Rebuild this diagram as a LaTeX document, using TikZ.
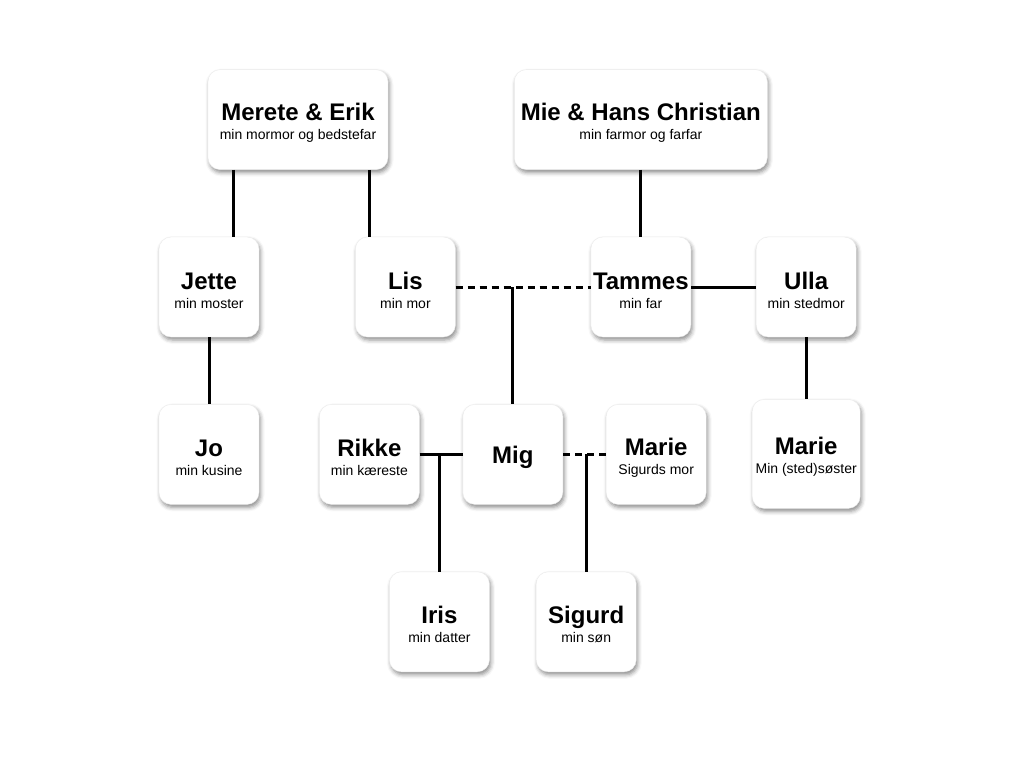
\documentclass[tikz,border=0pt]{standalone}
\usepackage{fontspec}
\setmainfont{Liberation Sans}[BoldFont={Liberation Sans Bold}]
\usetikzlibrary{positioning,shadows.blur}
\newcommand{\name}[1]{{\fontsize{24}{24}\selectfont\bfseries\rule{0pt}{23.5pt}#1}}
\newcommand{\who}[2]{\name{#1}\\#2}

\begin{document}
\begin{tikzpicture}[x=1pt,y=-1pt]
		\tikzstyle{card}=[rectangle, rounded corners=12pt, fill=white, draw=black!8, minimum width=100pt, minimum height=100pt, inner sep=0pt, align=center, font=\fontsize{14}{19}\selectfont, node distance=67pt, blur shadow={shadow xshift=1.5pt, shadow yshift=-3pt, shadow blur radius=4pt, shadow opacity=45}]
		\tikzstyle{tie}=[line width=3pt]
		\tikzstyle{loose}=[line width=3pt, dash pattern=on 7pt off 5pt]
		\useasboundingbox (0,0) rectangle (1024,768);

		\node[card] (jette) at (209,287) {\who{Jette}{min moster}};
		\node[card] (jo) [below=of jette] {\who{Jo}{min kusine}};
		\node[card, minimum width=180pt] (merete) [above=of jette, xshift=89pt] {\who{Merete \& Erik}{min mormor og bedstefar}};

		\node[card] (lis) [right=96pt of jette] {\who{Lis}{min mor}};
		\node[card] (tammes) [right=135pt of lis] {\who{Tammes}{min far}};
		\node[card] (ulla) [right=65pt of tammes] {\who{Ulla}{min stedmor}};
		\node[card, minimum width=253pt] (mie) [above=of tammes] {\who{Mie \& Hans Christian}{min farmor og farfar}};
		\node[card, minimum width=108pt, minimum height=109pt] (sister) [below=62pt of ulla] {\who{Marie}{Min (sted)søster}};

		\node[card] (rikke) [right=60pt of jo] {\who{Rikke}{min kæreste}};
		\node[card] (mig) [right=43pt of rikke] {\name{Mig}};
		\node[card] (marie) [right=43pt of mig] {\who{Marie}{Sigurds mor}};

		\node[card] (iris) [below=of rikke, xshift=70pt] {\who{Iris}{min datter}};
		\node[card] (sigurd) [below=of marie, xshift=-70pt] {\who{Sigurd}{min søn}};

		% grandparents
		\coordinate (mL) at ([xshift=-65pt]merete.south);
		\coordinate (mR) at ([xshift=71pt]merete.south);
		\draw[tie] (mL) -- (mL |- jette.north);
		\draw[tie] (mR) -- (mR |- lis.north);
		\path (mie) edge [tie] (tammes);
		\path (jette) edge [tie] (jo);

		% parents
		\path (lis.east) edge [loose] (tammes.west);
		\path (tammes.east) edge [tie] (ulla.west);
		\path (ulla) edge [tie] (sister);
		\coordinate (lt) at (lis.east -| mig.north);
		\path (lt) edge [tie] (mig.north);

		% children
		\path (rikke.east) edge [tie] (mig.west);
		\path (mig.east) edge [loose] (marie.west);
		\coordinate (rm) at (iris.north |- rikke.east);
		\coordinate (ms) at (sigurd.north |- mig.east);
		\path (rm) edge [tie] (iris.north);
		\path (ms) edge [tie] (sigurd.north);

	\end{tikzpicture}
\end{document}
